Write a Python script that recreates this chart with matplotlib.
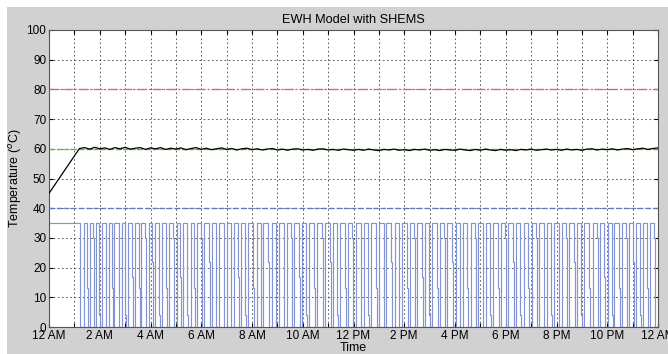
import numpy as np
import matplotlib
matplotlib.use("Agg")
import matplotlib.pyplot as plt
from matplotlib.patches import Rectangle

plt.rcParams['font.family'] = ['Liberation Sans', 'DejaVu Sans']

# x tick labels (every 2 hours)
hour_labels = ["12 AM", "2 AM", "4 AM", "6 AM", "8 AM", "10 AM", "12 PM",
               "2 PM", "4 PM", "6 PM", "8 PM", "10 PM", "12 AM"]

# reference lines
upper_limit = 80
setpoint = 60
lower_limit = 40

# water temperature: initial heat-up then samples every 0.2 h from 1.2 h
temp_start = 45
temp_vals = [
    60.1, 60.4, 59.9, 60.5, 60.0, 60.3, 59.8, 60.4, 60.0, 60.5, 59.9, 60.2, 60.4, 59.8, 60.3,
    60.0, 60.4, 59.8, 60.2, 59.9, 60.3, 59.7, 60.1, 60.4, 59.8, 60.2, 59.7, 60.0, 60.3, 59.8, 60.1, 59.6, 60.0, 60.2, 59.7,
    60.0, 59.6, 59.9, 60.1, 59.6, 59.9, 59.5, 59.9, 60.0, 59.6, 59.8, 59.5, 59.9, 60.0, 59.6, 59.8, 59.5, 59.9, 59.7, 59.5,
    59.8, 59.5, 59.9, 59.6, 59.4, 59.8, 59.6, 59.9, 59.5, 59.7, 59.4, 59.8, 59.6, 59.9, 59.5, 59.7, 59.4, 59.8, 59.6, 59.5,
    59.9, 59.6, 59.4, 59.8, 59.5, 59.9, 59.6, 59.4, 59.8, 59.5, 59.7, 59.4, 59.8, 59.6, 59.9, 59.5, 59.7, 59.9, 59.6, 59.8,
    59.5, 59.9, 59.6, 59.8, 59.5, 59.9, 60.0, 59.6, 59.9, 59.7, 60.0, 59.6, 59.9, 60.1, 59.7, 60.0, 60.2, 59.8, 60.1, 60.3,
]

# heater signal: full power until first switch-off, then pulses
heat_level = 35
heat_off_time = 1.22
pulse_start = [
    1.38, 1.60, 1.86, 2.08, 2.35, 2.58, 2.86, 3.10, 3.40, 3.64, 3.93, 4.18, 4.47, 4.72,
    5.03, 5.28, 5.58, 5.84, 6.12, 6.42, 6.70, 7.00, 7.28, 7.58, 7.86, 8.18, 8.45, 8.78,
    9.06, 9.38, 9.66, 9.98, 10.26, 10.58, 10.88, 11.20, 11.48, 11.80, 12.08, 12.42, 12.70,
    13.02, 13.30, 13.62, 13.90, 14.22, 14.50, 14.82, 15.10, 15.42, 15.70, 16.02, 16.30,
    16.62, 16.90, 17.22, 17.50, 17.82, 18.10, 18.42, 18.70, 19.02, 19.30, 19.62, 19.90,
    20.22, 20.50, 20.82, 21.10, 21.42, 21.70, 22.02, 22.28, 22.58, 22.84, 23.14, 23.40, 23.70,
]
pulse_len = [
    0.12, 0.14, 0.12, 0.15, 0.13, 0.16, 0.13, 0.17, 0.14, 0.16, 0.14, 0.17, 0.14, 0.18,
    0.15, 0.17, 0.15, 0.16, 0.18, 0.15, 0.18, 0.16, 0.18, 0.15, 0.19, 0.16, 0.19, 0.15,
    0.19, 0.16, 0.19, 0.16, 0.19, 0.17, 0.19, 0.16, 0.19, 0.16, 0.20, 0.16, 0.19, 0.17,
    0.19, 0.16, 0.20, 0.16, 0.19, 0.17, 0.19, 0.16, 0.20, 0.16, 0.19, 0.17, 0.19, 0.16,
    0.19, 0.17, 0.19, 0.16, 0.19, 0.17, 0.19, 0.16, 0.18, 0.17, 0.19, 0.16, 0.18, 0.17,
    0.18, 0.16, 0.18, 0.15, 0.17, 0.16, 0.17, 0.15,
]
pulse_mid = [
    13, 30, 4, 22, 13, 30, 4, 17, 13, 30, 22, 4, 13, 30, 17, 4, 13, 30, 22, 4,
    13, 30, 17, 4, 13, 30, 22, 4, 13, 30, 17, 4, 13, 30, 22, 4, 13, 30, 17, 4,
    13, 30, 22, 4, 13, 30, 17, 4, 13, 30, 22, 4, 13, 30, 17, 4, 13, 30, 22, 4,
    13, 30, 17, 4, 13, 30, 22, 4, 13, 30, 17, 4, 13, 30, 22, 4, 13, 30,
]

# build series
temp_t = np.concatenate([[0.0], np.linspace(1.2, 24.0, len(temp_vals))])
temp_y = np.concatenate([[temp_start], temp_vals])

sig_t = [0.0, heat_off_time]
sig_y = [heat_level, 0]
for s, d, m in zip(pulse_start, pulse_len, pulse_mid):
    sig_t += [s, s + d, s + d + 0.03]
    sig_y += [heat_level, m, 0]
sig_t.append(24.0)
sig_y.append(0)

fig = plt.figure(figsize=(6.68, 3.54), dpi=100, facecolor='white')
fig.patches.append(Rectangle((7 / 668, 0), 1, 1 - 7 / 354, transform=fig.transFigure,
                             facecolor='#d1d1d1', edgecolor='none', zorder=-10))
ax = fig.add_axes([49 / 668, 27 / 354, 609 / 668, 297 / 354])
ax.set_facecolor('white')

ax.step(sig_t, sig_y, where='post', color='#8294d2', lw=0.85, zorder=2)
ax.axhline(upper_limit, color='#e06868', lw=1.0, ls='-.', zorder=3)
ax.axhline(setpoint, color='#55c030', lw=1.0, ls='--', zorder=3)
ax.axhline(lower_limit, color='#6878c0', lw=1.0, ls='--', zorder=3)
ax.plot(temp_t, temp_y, color='black', lw=0.9, zorder=4)

ax.set_xlim(0, 24)
ax.set_ylim(0, 100)
ax.set_xticks(np.arange(0, 25, 1))
ax.set_xticklabels([hour_labels[i // 2] if i % 2 == 0 else '' for i in range(25)])
ax.set_yticks(np.arange(0, 101, 10))
ax.tick_params(direction='in', top=True, right=True, labelsize=8.5, length=3, pad=2)
ax.grid(True, color='#444444', ls=(0, (2, 3)), lw=0.6)
for sp in ax.spines.values():
    sp.set_color('#555555')
    sp.set_linewidth(0.8)

ax.set_title("EWH Model with SHEMS", fontsize=9.2, pad=5)
ax.set_xlabel("Time", fontsize=9, labelpad=0)
ax.set_ylabel("Temperature ($^{o}$C)", fontsize=9, labelpad=2)

fig.savefig("out.png", dpi=100, facecolor=fig.get_facecolor())
